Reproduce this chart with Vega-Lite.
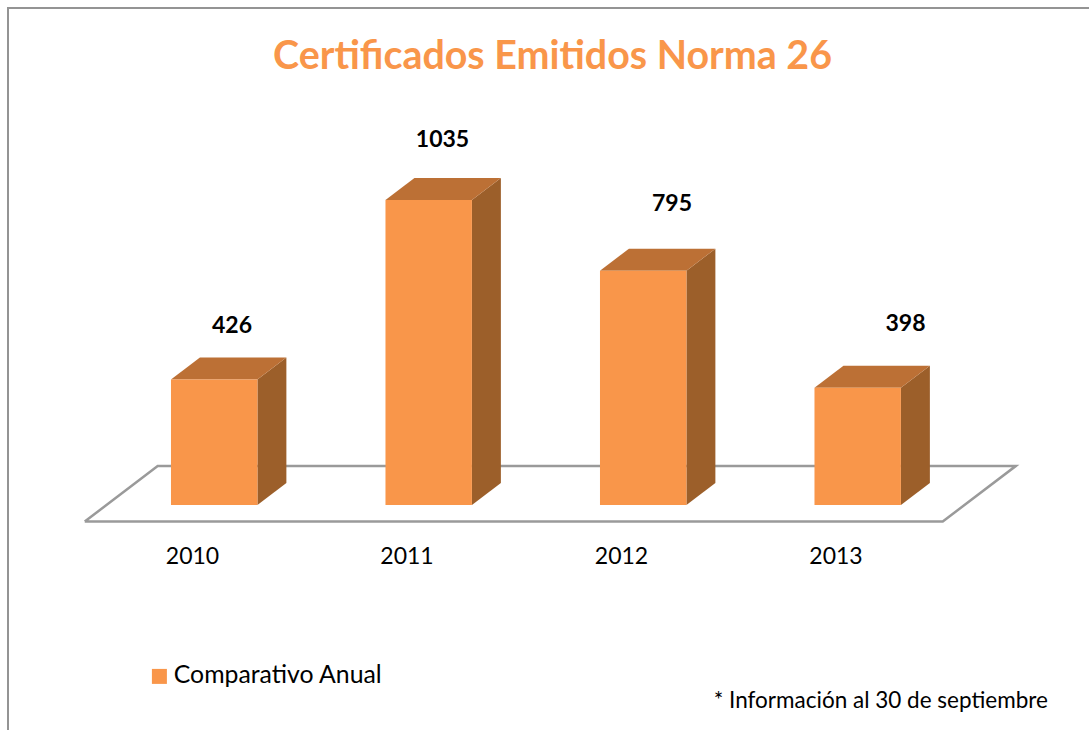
{
"$schema":"https://vega.github.io/schema/vega-lite/v6.json",
"width":1089,"height":730,"padding":0,"autosize":{"type":"none"},"background":"white",
"config":{"view":{"stroke":null},"font":"Lato"},
"title":{"text":"Certificados Emitidos Norma 26","font":"Lato","fontSize":39.4,"fontWeight":"bold","color":"#F9964A","anchor":"middle","offset":-108,"dx":8,"baseline":"alphabetic"},
"data":{"values":[
{"year":2010,"value":426,"series":"Comparativo Anual"},
{"year":2011,"value":1035,"series":"Comparativo Anual"},
{"year":2012,"value":795,"series":"Comparativo Anual"},
{"year":2013,"value":398,"series":"Comparativo Anual"}]},
"layer":[
{"data":{"values":[{"step":1,"px":2009.1422,"py":-763.5},{"step":2,"px":2009.1422,"py":1686.5},{"step":3,"px":2014.1818,"py":1686.5}]},
 "mark":{"type":"line","color":"#949494","strokeWidth":2,"clip":false},
 "encoding":{"x":{"field":"px","type":"quantitative","scale":{"domain":[2009.1049,2014.1818],"nice":false,"zero":false},"axis":{"values":[2010,2011,2012,2013],"format":"d","domain":false,"ticks":false,"grid":false,"title":null,"offset":-185,"labelPadding":0,"labelFontSize":23,"labelColor":"#000000","labelFont":"Lato"}},
 "y":{"field":"py","type":"quantitative","scale":{"domain":[-763.5,1713.6],"nice":false,"zero":false},"axis":null},"order":{"field":"step"}}},
{"data":{"values":[{"step":1,"px":2009.5,"py":-56},{"step":2,"px":2009.84,"py":132},{"step":3,"px":2013.84,"py":132},{"step":4,"px":2013.5,"py":-56},{"step":5,"px":2009.5,"py":-56}]},
 "mark":{"type":"line","color":"#9A9A9A","strokeWidth":2.5,"strokeJoin":"miter"},
 "encoding":{"x":{"field":"px","type":"quantitative"},"y":{"field":"py","type":"quantitative"},"order":{"field":"step"}}},
{"transform":[{"calculate":"datum.year+0.305","as":"a"},{"calculate":"datum.year+0.44","as":"b"},{"fold":["a","b"],"as":["corner","cx"]},{"calculate":"datum.corner=='b'?74.7:0","as":"lift"},{"calculate":"datum.value+datum.lift","as":"yt"}],
 "mark":{"type":"area","color":"#9C5F2A"},
 "encoding":{"x":{"field":"cx","type":"quantitative"},"y":{"field":"yt","type":"quantitative"},"y2":{"field":"lift"},"detail":{"field":"year"}}},
{"transform":[{"calculate":"datum.year-0.098","as":"p"},{"calculate":"datum.year+0.037","as":"q"},{"calculate":"datum.year+0.305","as":"r"},{"calculate":"datum.year+0.44","as":"s"},{"fold":["p","q","r","s"],"as":["corner","cx"]},{"calculate":"datum.corner=='p'?datum.value:datum.value+74.7","as":"upper"},{"calculate":"datum.corner=='s'?datum.value+74.7:datum.value","as":"lower"}],
 "mark":{"type":"area","color":"#BC7035"},
 "encoding":{"x":{"field":"cx","type":"quantitative"},"y":{"field":"upper","type":"quantitative"},"y2":{"field":"lower"},"detail":{"field":"year"}}},
{"transform":[{"calculate":"datum.year-0.098","as":"x0"},{"calculate":"datum.year+0.305","as":"x1"}],
 "mark":{"type":"rect"},
 "encoding":{"x":{"field":"x0","type":"quantitative"},"x2":{"field":"x1"},"y":{"field":"value","type":"quantitative"},"y2":{"datum":0},
 "color":{"field":"series","type":"nominal","scale":{"range":["#F9964A"]},"legend":{"title":null,"orient":"none","legendX":147,"legendY":664,"symbolType":"square","symbolSize":225,"symbolStrokeWidth":0,"labelFontSize":24.8,"labelOffset":2,"labelLimit":400,"labelColor":"#000000","labelFont":"Lato"}}}},
{"transform":[{"filter":"datum.year==2010"}],"mark":{"type":"text","dx":40,"dy":-53,"fontSize":23,"fontWeight":"bold","color":"#000000"},"encoding":{"x":{"field":"year","type":"quantitative"},"y":{"field":"value","type":"quantitative"},"text":{"field":"value","type":"nominal"}}},
{"transform":[{"filter":"datum.year==2011"}],"mark":{"type":"text","dx":36,"dy":-59.5,"fontSize":23,"fontWeight":"bold","color":"#000000"},"encoding":{"x":{"field":"year","type":"quantitative"},"y":{"field":"value","type":"quantitative"},"text":{"field":"value","type":"nominal"}}},
{"transform":[{"filter":"datum.year==2012"}],"mark":{"type":"text","dx":51,"dy":-66.5,"fontSize":23,"fontWeight":"bold","color":"#000000"},"encoding":{"x":{"field":"year","type":"quantitative"},"y":{"field":"value","type":"quantitative"},"text":{"field":"value","type":"nominal"}}},
{"transform":[{"filter":"datum.year==2013"}],"mark":{"type":"text","dx":70,"dy":-64,"fontSize":23,"fontWeight":"bold","color":"#000000"},"encoding":{"x":{"field":"year","type":"quantitative"},"y":{"field":"value","type":"quantitative"},"text":{"field":"value","type":"nominal"}}},
{"data":{"values":[{"note":"* Información al 30 de septiembre","nx":2013.99,"ny":-664}]},"mark":{"type":"text","align":"right","fontSize":22.5,"color":"#000000"},"encoding":{"x":{"field":"nx","type":"quantitative"},"y":{"field":"ny","type":"quantitative"},"text":{"field":"note"}}}
]}
